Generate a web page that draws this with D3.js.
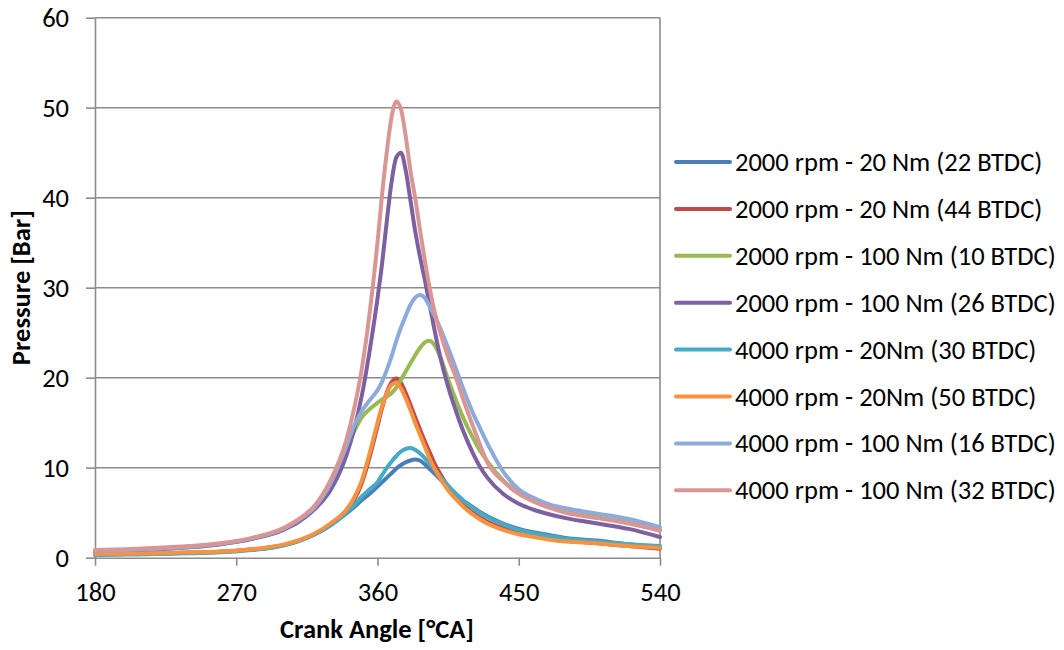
<!DOCTYPE html>
<html>
<head>
<meta charset="utf-8">
<script src="https://cdn.jsdelivr.net/npm/d3@7"></script>
<style>
  html, body { margin: 0; padding: 0; background: #fff; }
  svg { display: block; }
  text { font-family: Carlito, Lato, "Open Sans", sans-serif; fill: #000; }
</style>
</head>
<body>
<svg id="chart" width="1064" height="650"></svg>
<script>
// Crank angle grid (°CA) shared by all pressure traces
const crankAngle = [180, 200, 220, 240, 260, 280, 300, 310, 320, 330, 340, 345, 350, 355, 360,
  363, 366, 369, 372, 375, 378, 381, 384, 387, 390, 393, 396, 400, 405, 410, 415, 420, 425,
  430, 440, 450, 460, 470, 480, 500, 520, 540];

// In-cylinder pressure [bar] per operating point
const p2000_20_22 = [0.35, 0.4, 0.45, 0.55, 0.65, 0.9, 1.4, 1.9, 2.6, 3.6, 4.9, 5.6, 6.4, 7.1, 7.9,
  8.4, 8.9, 9.4, 9.9, 10.3, 10.6, 10.8, 10.9, 10.8, 10.4, 9.9, 9.4, 8.7, 7.8, 7.0, 6.3, 5.7, 5.1,
  4.6, 3.8, 3.2, 2.8, 2.5, 2.2, 1.9, 1.5, 1.2];
const p2000_20_44 = [0.35, 0.4, 0.45, 0.55, 0.65, 0.9, 1.4, 1.9, 2.6, 3.7, 5.2, 6.4, 8.3, 11.2, 14.6,
  16.7, 18.4, 19.5, 19.9, 19.4, 18.3, 17.0, 15.6, 14.3, 13.0, 11.8, 10.6, 9.3, 7.9, 6.8, 5.8, 5.1, 4.5,
  4.0, 3.3, 2.8, 2.4, 2.1, 1.9, 1.6, 1.3, 1.0];
const p2000_100_10 = [0.7, 0.8, 0.95, 1.15, 1.5, 2.1, 3.1, 4.1, 5.5, 8.0, 12.0, 14.0, 15.6, 16.5, 17.2,
  17.6, 17.9, 18.3, 18.9, 19.8, 20.7, 21.6, 22.5, 23.3, 23.9, 24.1, 23.7, 22.3, 19.8, 17.5, 15.4, 13.6, 12.0,
  10.7, 8.6, 7.2, 6.3, 5.6, 5.1, 4.5, 3.9, 3.1];
const p2000_100_26 = [0.7, 0.8, 0.95, 1.15, 1.5, 2.1, 3.1, 4.0, 5.4, 7.5, 11.3, 14.2, 18.0, 23.0, 28.8,
  32.8, 37.5, 41.8, 44.5, 45.0, 43.0, 39.7, 36.3, 33.5, 31.0, 28.3, 25.6, 22.3, 19.0, 16.3, 13.9, 11.9, 10.2,
  8.9, 7.1, 6.0, 5.3, 4.8, 4.4, 3.8, 3.2, 2.3];
const p4000_20_30 = [0.3, 0.35, 0.4, 0.5, 0.6, 0.85, 1.35, 1.85, 2.6, 3.6, 5.0, 5.8, 6.8, 7.6, 8.4,
  9.2, 10.0, 10.7, 11.3, 11.8, 12.1, 12.2, 12.0, 11.6, 11.1, 10.5, 9.9, 9.0, 8.0, 7.1, 6.3, 5.6, 5.0,
  4.5, 3.7, 3.1, 2.7, 2.4, 2.1, 1.8, 1.5, 1.3];
const p4000_20_50 = [0.4, 0.45, 0.5, 0.6, 0.7, 0.95, 1.45, 1.95, 2.7, 3.8, 5.3, 6.6, 8.6, 11.6, 15.0,
  16.9, 18.3, 19.2, 19.4, 18.8, 17.7, 16.4, 15.0, 13.7, 12.4, 11.1, 10.0, 8.8, 7.5, 6.5, 5.6, 4.9, 4.3,
  3.8, 3.1, 2.6, 2.3, 2.0, 1.8, 1.6, 1.3, 1.1];
const p4000_100_16 = [0.75, 0.85, 1.0, 1.2, 1.55, 2.15, 3.2, 4.2, 5.6, 8.2, 12.3, 14.6, 16.3, 17.5, 18.6,
  19.6, 20.9, 22.4, 24.1, 25.6, 26.9, 28.1, 28.9, 29.2, 28.9, 28.0, 27.0, 25.5, 23.3, 21.0, 18.6, 16.4, 14.5,
  12.7, 9.6, 7.6, 6.6, 5.9, 5.5, 4.9, 4.3, 3.4];
const p4000_100_32 = [0.85, 0.95, 1.1, 1.3, 1.6, 2.2, 3.3, 4.3, 5.8, 8.6, 13.0, 16.5, 21.0, 27.2, 35.0,
  40.5, 45.2, 49.0, 50.7, 49.8, 46.8, 43.0, 40.0, 36.5, 33.2, 30.2, 27.6, 25.0, 22.3, 20.0, 17.4, 15.0, 12.7,
  10.6, 8.5, 7.1, 6.2, 5.5, 5.0, 4.4, 3.8, 3.0];

const seriesNames = [
  "2000 rpm - 20 Nm (22 BTDC)",
  "2000 rpm - 20 Nm (44 BTDC)",
  "2000 rpm - 100 Nm (10 BTDC)",
  "2000 rpm - 100 Nm (26 BTDC)",
  "4000 rpm - 20Nm (30 BTDC)",
  "4000 rpm - 20Nm (50 BTDC)",
  "4000 rpm - 100 Nm (16 BTDC)",
  "4000 rpm - 100 Nm (32 BTDC)"
];
const seriesValues = [p2000_20_22, p2000_20_44, p2000_100_10, p2000_100_26,
  p4000_20_30, p4000_20_50, p4000_100_16, p4000_100_32];
const seriesColors = ["#4A7EBB", "#BE4B48", "#98B954", "#7D60A0",
  "#46AAC5", "#F69240", "#8EAADB", "#D99694"];

const xTicks = [180, 270, 360, 450, 540];
const yTicks = [0, 10, 20, 30, 40, 50, 60];

const svg = d3.select("#chart");
const plot = { left: 95, right: 660, top: 17.7, bottom: 557.7 };
const fontSize = 26.5;

const x = d3.scaleLinear().domain([180, 540]).range([plot.left, plot.right]);
const y = d3.scaleLinear().domain([0, 60]).range([plot.bottom, plot.top]);

const gridColor = "#8C8C8C";

// horizontal gridlines
svg.append("g")
  .selectAll("line")
  .data(yTicks.filter(d => d > 0))
  .join("line")
  .attr("x1", plot.left).attr("x2", plot.right)
  .attr("y1", d => y(d)).attr("y2", d => y(d))
  .attr("stroke", gridColor).attr("stroke-width", 1.6);

// right border of the plot area
svg.append("line")
  .attr("x1", plot.right).attr("x2", plot.right)
  .attr("y1", plot.top).attr("y2", plot.bottom)
  .attr("stroke", gridColor).attr("stroke-width", 1.6);

// y axis
const yAxis = svg.append("g")
  .attr("transform", `translate(${plot.left},0)`)
  .call(d3.axisLeft(y).tickValues(yTicks).tickSize(9).tickPadding(17).tickSizeOuter(0));
yAxis.select(".domain").attr("stroke", gridColor).attr("stroke-width", 1.6);
yAxis.selectAll(".tick line").attr("stroke", gridColor).attr("stroke-width", 1.6);
yAxis.selectAll(".tick text").attr("font-size", fontSize).attr("font-family", "Carlito, Lato, sans-serif")
  .attr("fill", "#000");

// x axis
const xAxis = svg.append("g")
  .attr("transform", `translate(0,${plot.bottom})`)
  .call(d3.axisBottom(x).tickValues(xTicks).tickSize(8).tickPadding(16).tickSizeOuter(0));
xAxis.select(".domain").attr("stroke", gridColor).attr("stroke-width", 1.6);
xAxis.selectAll(".tick line").attr("stroke", gridColor).attr("stroke-width", 1.6);
xAxis.selectAll(".tick text").attr("font-size", fontSize).attr("font-family", "Carlito, Lato, sans-serif")
  .attr("fill", "#000");

// pressure traces
const line = d3.line()
  .x((d, i) => x(crankAngle[i]))
  .y(d => y(d))
  .curve(d3.curveMonotoneX);

svg.append("g")
  .selectAll("path")
  .data(seriesValues)
  .join("path")
  .attr("d", d => line(d))
  .attr("fill", "none")
  .attr("stroke", (d, i) => seriesColors[i])
  .attr("stroke-width", 4)
  .attr("stroke-linejoin", "round")
  .attr("stroke-linecap", "round");

// axis titles
svg.append("text")
  .attr("x", 377)
  .attr("y", 638)
  .attr("text-anchor", "middle")
  .attr("font-size", fontSize)
  .attr("font-weight", "bold")
  .text("Crank Angle [°CA]");

svg.append("text")
  .attr("transform", `translate(30,${(plot.top + plot.bottom) / 2}) rotate(-90)`)
  .attr("text-anchor", "middle")
  .attr("font-size", fontSize)
  .attr("font-weight", "bold")
  .text("Pressure [Bar]");

// legend
const legend = svg.append("g");
const rows = legend.selectAll("g")
  .data(seriesNames)
  .join("g")
  .attr("transform", (d, i) => `translate(676,${162 + i * 46.9})`);
rows.append("line")
  .attr("x1", 0).attr("x2", 54)
  .attr("stroke", (d, i) => seriesColors[i])
  .attr("stroke-width", 4)
  .attr("stroke-linecap", "round");
rows.append("text")
  .attr("x", 59)
  .attr("y", 9)
  .attr("font-size", fontSize)
  .text(d => d);
</script>
</body>
</html>
